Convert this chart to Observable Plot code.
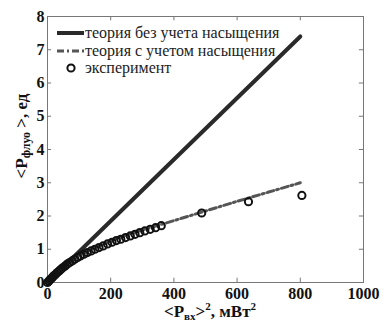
<!DOCTYPE html>
<html><head><meta charset="utf-8">
<script src="https://cdn.jsdelivr.net/npm/d3@7"></script>
<script src="https://cdn.jsdelivr.net/npm/@observablehq/plot@0.6"></script>
<style>
body{margin:0;background:#fff}
#chart svg, #chart svg text, #chart svg tspan { font-family: "Liberation Serif", "Times New Roman", "DejaVu Serif", serif !important; }
</style>
</head><body><div id="chart"></div>
<script>
const lineX = [0, 800];
const lineY = [0, 7.4];
const curveX = [0, 25, 50, 100, 150, 200, 250, 300, 350, 400, 500, 600, 700, 800];
const curveY = [0, 0.24, 0.45, 0.8, 1.04, 1.25, 1.43, 1.58, 1.72, 1.86, 2.15, 2.44, 2.72, 3.0];
const expX = [0, 4, 8, 12, 16, 20, 25, 30, 36, 42, 48, 55, 62, 70, 78, 86, 95, 104, 115, 126, 138, 150, 163, 176, 190, 204, 218, 232, 247, 262, 277, 292, 308, 325, 342, 360, 488, 636, 805];
const expY = [0, 0.04, 0.08, 0.12, 0.16, 0.2, 0.24, 0.29, 0.34, 0.39, 0.44, 0.49, 0.55, 0.6, 0.65, 0.7, 0.75, 0.8, 0.85, 0.9, 0.95, 1.0, 1.05, 1.1, 1.16, 1.21, 1.26, 1.3, 1.35, 1.4, 1.45, 1.5, 1.55, 1.6, 1.65, 1.71, 2.09, 2.43, 2.62];
const xTicks = [0, 200, 400, 600, 800, 1000];
const yTicks = [0, 1, 2, 3, 4, 5, 6, 7, 8];
const legendLabels = ["теория без учета насыщения", "теория с учетом насыщения", "эксперимент"];

const line = lineX.map((x, i) => ({x, y: lineY[i]}));
const curve = curveX.map((x, i) => ({x, y: curveY[i]}));
const exp = expX.map((x, i) => ({x, y: expY[i]}));

const plot = Plot.plot({
  width: 387, height: 324,
  marginLeft: 47, marginRight: 24, marginTop: 16, marginBottom: 42,
  style: {background: "#fff"},
  x: {domain: [0, 1000], label: null},
  y: {domain: [0, 8], label: null},
  marks: [
    Plot.ruleX(xTicks.slice(1, -1), {y1: 0, y2: 0.13, stroke: "#777"}),
    Plot.ruleX(xTicks.slice(1, -1), {y1: 8, y2: 7.87, stroke: "#777"}),
    Plot.ruleY(yTicks.slice(1, -1), {x1: 0, x2: 13, stroke: "#777"}),
    Plot.ruleY(yTicks.slice(1, -1), {x1: 1000, x2: 987, stroke: "#777"}),
    Plot.frame({stroke: "#777"}),
    Plot.axisX(xTicks, {anchor: "bottom", tickSize: 0, tickPadding: 5, fontSize: 16, fontWeight: "bold", fill: "#111", tickFormat: d => String(d)}),
    Plot.axisY(yTicks, {anchor: "left", tickSize: 0, tickPadding: 3, fontSize: 16, fontWeight: "bold", fill: "#111", tickFormat: d => String(d)}),
    Plot.line(line, {x: "x", y: "y", stroke: "#2a2a2a", strokeWidth: 4}),
    Plot.line(curve, {x: "x", y: "y", stroke: "#555", strokeWidth: 3, strokeDasharray: "7,3,2,3"}),
    Plot.dot(exp, {x: "x", y: "y", r: 3.6, stroke: "#111", strokeWidth: 2, fill: "none"})
  ]
});
document.getElementById("chart").appendChild(plot);

const svg = d3.select(plot);
// legend
const lg = svg.append("g").style("font-size", "16px").style("text-anchor", "start").attr("fill", "#222");
const rows = [33, 51, 68];
lg.append("line").attr("x1", 57).attr("x2", 84).attr("y1", rows[0]).attr("y2", rows[0]).attr("stroke", "#2a2a2a").attr("stroke-width", 4);
lg.append("line").attr("x1", 57).attr("x2", 84).attr("y1", rows[1]).attr("y2", rows[1]).attr("stroke", "#555").attr("stroke-width", 3).attr("stroke-dasharray", "7,3,2,3");
lg.append("circle").attr("cx", 71).attr("cy", rows[2]).attr("r", 3.6).attr("fill", "none").attr("stroke", "#111").attr("stroke-width", 2);
legendLabels.forEach((t, i) => {
  lg.append("text").attr("x", 85).attr("y", rows[i]).attr("dy", "0.32em").text(t);
});
// x label
const xl = svg.append("text").attr("x", 210).attr("y", 317).style("text-anchor", "middle")
  .style("font-size", "17px").style("font-weight", "bold").attr("fill", "#111");
xl.append("tspan").text("<P");
xl.append("tspan").style("font-size", "11px").attr("dy", 3).text("вх");
xl.append("tspan").attr("dy", -3).text(">");
xl.append("tspan").style("font-size", "11px").attr("dy", -7).text("2");
xl.append("tspan").attr("dy", 7).text(", мВт");
xl.append("tspan").style("font-size", "11px").attr("dy", -7).text("2");
// y label
const yl = svg.append("text").attr("transform", "translate(27,136) rotate(-90)").style("text-anchor", "middle")
  .style("font-size", "17px").style("font-weight", "bold").attr("fill", "#111");
yl.append("tspan").text("<P");
yl.append("tspan").style("font-size", "12px").attr("dy", 3).text("флуо");
yl.append("tspan").attr("dy", -3).text(" >, ед");
</script>
</body></html>
